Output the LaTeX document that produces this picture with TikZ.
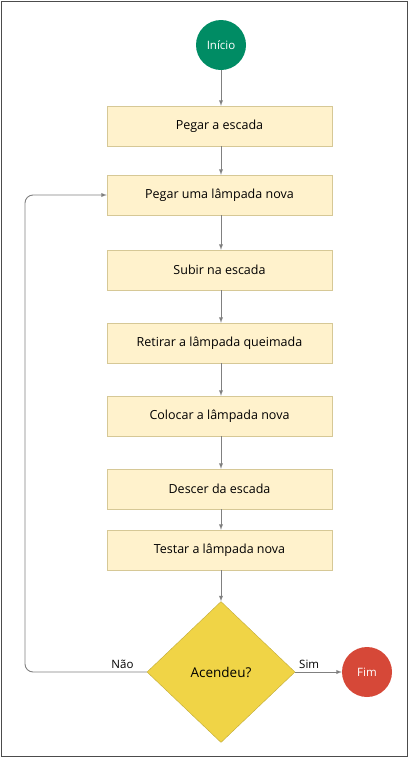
\documentclass[tikz,border=0pt]{standalone}
\usepackage{fontspec}
\setmainfont{Open Sans}
\usetikzlibrary{shapes.geometric,positioning}
\definecolor{boxfill}{RGB}{255,242,204}
\definecolor{boxline}{RGB}{214,200,150}
\definecolor{startgreen}{RGB}{0,140,100}
\definecolor{endred}{RGB}{214,72,56}
\definecolor{decyellow}{RGB}{240,212,70}
\tikzset{
  task/.style={draw=boxline, fill=boxfill, minimum width=225pt, minimum height=40pt, font=\fontsize{12.5}{15}\selectfont},
  term/.style={circle, minimum size=50pt, text=white, font=\fontsize{11.5}{14}\selectfont},
  flow/.style={draw=gray, line width=0.9pt, -latex},
  lbl/.style={above, font=\fontsize{11.5}{14}\selectfont},
}
\begin{document}
\begin{tikzpicture}[x=1pt,y=-1pt]
				\draw[black!70, line width=1pt] (1,1) rectangle (407,756);
				\useasboundingbox (0,0) rectangle (409,758);
				%
				\node[term, fill=startgreen] (ini) at (221,45) {Início};
				\node[task] (s1) at (219.5,126) {Pegar a escada};
				\node[task] (s2) at (219.5,195) {Pegar uma lâmpada nova};
				\node[task] (s3) at (219.5,270) {Subir na escada};
				\node[task] (s4) at (219.5,343) {Retirar a lâmpada queimada};
				\node[task] (s5) at (219.5,416) {Colocar a lâmpada nova};
				\node[task] (s6) at (219.5,489) {Descer da escada};
				\node[task] (s7) at (219.5,550) {Testar a lâmpada nova};
				\node[diamond, fill=decyellow, draw=decyellow!80!black, minimum width=148pt, minimum height=141pt, inner sep=0pt, font=\fontsize{13.5}{16}\selectfont] (dec) at (221,672) {Acendeu?};
				\node[term, fill=endred] (fim) at (367,672) {Fim};
				\coordinate (c0) at (25,672);
				\coordinate (c1) at (25,195);
				%
				\draw[flow] (ini) -- (ini |- s1.north);
				\foreach \i in {1,...,6}{
						\edef\ipp{\fpeval{\i + 1}}
						\draw[flow] (ini |- s\i.south) -- (ini |- s\ipp.north);
					}
				\draw[flow] (ini |- s7.south) -- (dec);
				\draw[flow] (dec) -- node[lbl, pos=0.3] {Sim} (fim);
				\draw[flow, rounded corners=8pt] (dec.west) -- node[lbl, pos=0.2] {Não} (c0) -- (c1) -- (s2.west);
			\end{tikzpicture}
\end{document}
